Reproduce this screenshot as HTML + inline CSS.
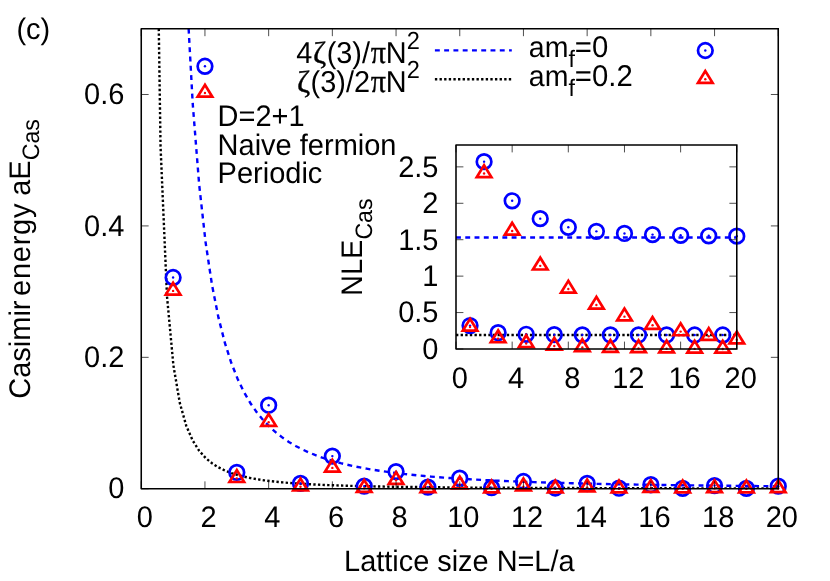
<!DOCTYPE html>
<html><head><meta charset="utf-8"><title>Casimir energy</title>
<style>html,body{margin:0;padding:0;background:#fff;}svg{display:block;will-change:transform;}text{font-family:"Liberation Sans",sans-serif;fill:#000;text-rendering:geometricPrecision;}</style></head><body>
<svg width="830" height="581" viewBox="0 0 830 581">
<rect width="830" height="581" fill="#fff"/>
<defs><clipPath id="cm"><rect x="141.25" y="28.78" width="637.00" height="459.97"/></clipPath></defs>
<text transform="translate(144.85,527.00) scale(1,1.025)" font-size="29" text-anchor="middle">0</text>
<text transform="translate(208.55,527.00) scale(1,1.025)" font-size="29" text-anchor="middle">2</text>
<text transform="translate(272.25,527.00) scale(1,1.025)" font-size="29" text-anchor="middle">4</text>
<text transform="translate(335.95,527.00) scale(1,1.025)" font-size="29" text-anchor="middle">6</text>
<text transform="translate(399.65,527.00) scale(1,1.025)" font-size="29" text-anchor="middle">8</text>
<text transform="translate(463.35,527.00) scale(1,1.025)" font-size="29" text-anchor="middle">10</text>
<text transform="translate(527.05,527.00) scale(1,1.025)" font-size="29" text-anchor="middle">12</text>
<text transform="translate(590.75,527.00) scale(1,1.025)" font-size="29" text-anchor="middle">14</text>
<text transform="translate(654.45,527.00) scale(1,1.025)" font-size="29" text-anchor="middle">16</text>
<text transform="translate(718.15,527.00) scale(1,1.025)" font-size="29" text-anchor="middle">18</text>
<text transform="translate(781.85,527.00) scale(1,1.025)" font-size="29" text-anchor="middle">20</text>
<text transform="translate(124.40,498.45) scale(1,1.025)" font-size="29" text-anchor="end">0</text>
<text transform="translate(124.40,367.03) scale(1,1.025)" font-size="29" text-anchor="end">0.2</text>
<text transform="translate(124.40,235.61) scale(1,1.025)" font-size="29" text-anchor="end">0.4</text>
<text transform="translate(124.40,104.19) scale(1,1.025)" font-size="29" text-anchor="end">0.6</text>
<text transform="translate(459.30,571.00) scale(1,1.025)" font-size="28.9" text-anchor="middle">Lattice size N=L/a</text>
<text transform="translate(29.60,258.90) rotate(-90) scale(1,1.025)" font-size="29" text-anchor="middle">Casimir <tspan dx="-3.6" style="letter-spacing:0.75px">energy</tspan><tspan dx="-1"> aE</tspan><tspan font-size="23.2" dy="9.2">Cas</tspan></text>
<text transform="translate(16.40,39.00) scale(1,1.025)" font-size="29" text-anchor="start">(c)</text>
<g clip-path="url(#cm)" fill="none">
<path d="M188.63,28.78 L192.72,103.72 L199.16,184.53 L205.59,242.33 L212.03,285.10 L218.46,317.62 L224.90,342.94 L231.33,363.03 L237.77,379.23 L244.20,392.49 L250.63,403.48 L257.07,412.69 L263.50,420.49 L269.94,427.14 L276.37,432.87 L282.81,437.84 L289.24,442.17 L295.67,445.97 L302.11,449.32 L308.54,452.30 L314.98,454.95 L321.41,457.32 L327.85,459.45 L334.28,461.37 L340.71,463.11 L347.15,464.69 L353.58,466.12 L360.02,467.43 L366.45,468.63 L372.89,469.74 L379.32,470.75 L385.76,471.68 L392.19,472.55 L398.62,473.35 L405.06,474.09 L411.49,474.78 L417.93,475.42 L424.36,476.02 L430.80,476.58 L437.23,477.10 L443.66,477.59 L450.10,478.05 L456.53,478.49 L462.97,478.89 L469.40,479.28 L475.84,479.64 L482.27,479.98 L488.70,480.30 L495.14,480.60 L501.57,480.89 L508.01,481.17 L514.44,481.42 L520.88,481.67 L527.31,481.90 L533.74,482.13 L540.18,482.34 L546.61,482.54 L553.05,482.73 L559.48,482.92 L565.92,483.09 L572.35,483.26 L578.79,483.42 L585.22,483.57 L591.65,483.72 L598.09,483.86 L604.52,484.00 L610.96,484.13 L617.39,484.25 L623.83,484.37 L630.26,484.48 L636.69,484.59 L643.13,484.70 L649.56,484.80 L656.00,484.90 L662.43,484.99 L668.87,485.09 L675.30,485.17 L681.73,485.26 L688.17,485.34 L694.60,485.42 L701.04,485.49 L707.47,485.57 L713.91,485.64 L720.34,485.71 L726.78,485.77 L733.21,485.84 L739.64,485.90 L746.08,485.96 L752.51,486.02 L758.95,486.08 L765.38,486.13 L771.82,486.18 L778.25,486.24" stroke="#0000ff" stroke-width="2.4" stroke-dasharray="4.9 4.37"/>
<path d="M158.78,28.78 L160.55,146.50 L166.99,296.23 L173.42,365.54 L179.86,403.19 L186.29,425.89 L192.72,440.62 L199.16,450.72 L205.59,457.95 L212.03,463.29 L218.46,467.36 L224.90,470.52 L231.33,473.03 L237.77,475.06 L244.20,476.72 L250.63,478.09 L257.07,479.24 L263.50,480.22 L269.94,481.05 L276.37,481.77 L282.81,482.39 L289.24,482.93 L295.67,483.40 L302.11,483.82 L308.54,484.19 L314.98,484.52 L321.41,484.82 L327.85,485.09 L334.28,485.33 L340.71,485.54 L347.15,485.74 L353.58,485.92 L360.02,486.09 L366.45,486.24 L372.89,486.37 L379.32,486.50 L385.76,486.62 L392.19,486.72 L398.62,486.82 L405.06,486.92 L411.49,487.00 L417.93,487.08 L424.36,487.16 L430.80,487.23 L437.23,487.29 L443.66,487.36 L450.10,487.41 L456.53,487.47 L462.97,487.52 L469.40,487.57 L475.84,487.61 L482.27,487.65 L488.70,487.69 L495.14,487.73 L501.57,487.77 L508.01,487.80 L514.44,487.83 L520.88,487.87 L527.31,487.89 L533.74,487.92 L540.18,487.95 L546.61,487.97 L553.05,488.00 L559.48,488.02 L565.92,488.04 L572.35,488.06 L578.79,488.08 L585.22,488.10 L591.65,488.12 L598.09,488.14 L604.52,488.16 L610.96,488.17 L617.39,488.19 L623.83,488.20 L630.26,488.22 L636.69,488.23 L643.13,488.24 L649.56,488.26 L656.00,488.27 L662.43,488.28 L668.87,488.29 L675.30,488.30 L681.73,488.31 L688.17,488.32 L694.60,488.33 L701.04,488.34 L707.47,488.35 L713.91,488.36 L720.34,488.37 L726.78,488.38 L733.21,488.39 L739.64,488.39 L746.08,488.40 L752.51,488.41 L758.95,488.42 L765.38,488.42 L771.82,488.43 L778.25,488.44" stroke="#000" stroke-width="2.4" stroke-dasharray="2.35 2.27"/>
</g>
<circle cx="173.10" cy="277.51" r="7.3" fill="none" stroke="#0000ff" stroke-width="2.7"/><circle cx="173.10" cy="277.51" r="1.2" fill="#0000ff"/>
<circle cx="204.95" cy="66.27" r="7.3" fill="none" stroke="#0000ff" stroke-width="2.7"/><circle cx="204.95" cy="66.27" r="1.2" fill="#0000ff"/>
<circle cx="236.80" cy="472.42" r="7.3" fill="none" stroke="#0000ff" stroke-width="2.7"/><circle cx="236.80" cy="472.42" r="1.2" fill="#0000ff"/>
<circle cx="268.65" cy="405.22" r="7.3" fill="none" stroke="#0000ff" stroke-width="2.7"/><circle cx="268.65" cy="405.22" r="1.2" fill="#0000ff"/>
<circle cx="300.50" cy="483.44" r="7.3" fill="none" stroke="#0000ff" stroke-width="2.7"/><circle cx="300.50" cy="483.44" r="1.2" fill="#0000ff"/>
<circle cx="332.35" cy="456.09" r="7.3" fill="none" stroke="#0000ff" stroke-width="2.7"/><circle cx="332.35" cy="456.09" r="1.2" fill="#0000ff"/>
<circle cx="364.20" cy="486.12" r="7.3" fill="none" stroke="#0000ff" stroke-width="2.7"/><circle cx="364.20" cy="486.12" r="1.2" fill="#0000ff"/>
<circle cx="396.05" cy="471.59" r="7.3" fill="none" stroke="#0000ff" stroke-width="2.7"/><circle cx="396.05" cy="471.59" r="1.2" fill="#0000ff"/>
<circle cx="427.90" cy="487.17" r="7.3" fill="none" stroke="#0000ff" stroke-width="2.7"/><circle cx="427.90" cy="487.17" r="1.2" fill="#0000ff"/>
<circle cx="459.75" cy="478.14" r="7.3" fill="none" stroke="#0000ff" stroke-width="2.7"/><circle cx="459.75" cy="478.14" r="1.2" fill="#0000ff"/>
<circle cx="491.60" cy="487.70" r="7.3" fill="none" stroke="#0000ff" stroke-width="2.7"/><circle cx="491.60" cy="487.70" r="1.2" fill="#0000ff"/>
<circle cx="523.45" cy="481.51" r="7.3" fill="none" stroke="#0000ff" stroke-width="2.7"/><circle cx="523.45" cy="481.51" r="1.2" fill="#0000ff"/>
<circle cx="555.30" cy="488.00" r="7.3" fill="none" stroke="#0000ff" stroke-width="2.7"/><circle cx="555.30" cy="488.00" r="1.2" fill="#0000ff"/>
<circle cx="587.15" cy="483.49" r="7.3" fill="none" stroke="#0000ff" stroke-width="2.7"/><circle cx="587.15" cy="483.49" r="1.2" fill="#0000ff"/>
<circle cx="619.00" cy="488.19" r="7.3" fill="none" stroke="#0000ff" stroke-width="2.7"/><circle cx="619.00" cy="488.19" r="1.2" fill="#0000ff"/>
<circle cx="650.85" cy="484.74" r="7.3" fill="none" stroke="#0000ff" stroke-width="2.7"/><circle cx="650.85" cy="484.74" r="1.2" fill="#0000ff"/>
<circle cx="682.70" cy="488.31" r="7.3" fill="none" stroke="#0000ff" stroke-width="2.7"/><circle cx="682.70" cy="488.31" r="1.2" fill="#0000ff"/>
<circle cx="714.55" cy="485.60" r="7.3" fill="none" stroke="#0000ff" stroke-width="2.7"/><circle cx="714.55" cy="485.60" r="1.2" fill="#0000ff"/>
<circle cx="746.40" cy="488.40" r="7.3" fill="none" stroke="#0000ff" stroke-width="2.7"/><circle cx="746.40" cy="488.40" r="1.2" fill="#0000ff"/>
<circle cx="778.25" cy="486.21" r="7.3" fill="none" stroke="#0000ff" stroke-width="2.7"/><circle cx="778.25" cy="486.21" r="1.2" fill="#0000ff"/>
<path d="M173.10,282.72 L165.80,294.55 L180.40,294.55 Z" fill="none" stroke="#ff0000" stroke-width="2.7" stroke-linejoin="miter"/><circle cx="173.10" cy="290.90" r="1.2" fill="#ff0000"/>
<path d="M204.95,84.87 L197.65,96.69 L212.25,96.69 Z" fill="none" stroke="#ff0000" stroke-width="2.7" stroke-linejoin="miter"/><circle cx="204.95" cy="93.04" r="1.2" fill="#ff0000"/>
<path d="M236.80,470.16 L229.50,481.98 L244.10,481.98 Z" fill="none" stroke="#ff0000" stroke-width="2.7" stroke-linejoin="miter"/><circle cx="236.80" cy="478.33" r="1.2" fill="#ff0000"/>
<path d="M268.65,414.06 L261.35,425.89 L275.95,425.89 Z" fill="none" stroke="#ff0000" stroke-width="2.7" stroke-linejoin="miter"/><circle cx="268.65" cy="422.24" r="1.2" fill="#ff0000"/>
<path d="M300.50,478.59 L293.20,490.42 L307.80,490.42 Z" fill="none" stroke="#ff0000" stroke-width="2.7" stroke-linejoin="miter"/><circle cx="300.50" cy="486.77" r="1.2" fill="#ff0000"/>
<path d="M332.35,459.74 L325.05,471.57 L339.65,471.57 Z" fill="none" stroke="#ff0000" stroke-width="2.7" stroke-linejoin="miter"/><circle cx="332.35" cy="467.92" r="1.2" fill="#ff0000"/>
<path d="M364.20,480.03 L356.90,491.85 L371.50,491.85 Z" fill="none" stroke="#ff0000" stroke-width="2.7" stroke-linejoin="miter"/><circle cx="364.20" cy="488.20" r="1.2" fill="#ff0000"/>
<path d="M396.05,472.12 L388.75,483.95 L403.35,483.95 Z" fill="none" stroke="#ff0000" stroke-width="2.7" stroke-linejoin="miter"/><circle cx="396.05" cy="480.30" r="1.2" fill="#ff0000"/>
<path d="M427.90,480.40 L420.60,492.22 L435.20,492.22 Z" fill="none" stroke="#ff0000" stroke-width="2.7" stroke-linejoin="miter"/><circle cx="427.90" cy="488.57" r="1.2" fill="#ff0000"/>
<path d="M459.75,476.61 L452.45,488.44 L467.05,488.44 Z" fill="none" stroke="#ff0000" stroke-width="2.7" stroke-linejoin="miter"/><circle cx="459.75" cy="484.79" r="1.2" fill="#ff0000"/>
<path d="M491.60,480.51 L484.30,492.34 L498.90,492.34 Z" fill="none" stroke="#ff0000" stroke-width="2.7" stroke-linejoin="miter"/><circle cx="491.60" cy="488.69" r="1.2" fill="#ff0000"/>
<path d="M523.45,478.55 L516.15,490.37 L530.75,490.37 Z" fill="none" stroke="#ff0000" stroke-width="2.7" stroke-linejoin="miter"/><circle cx="523.45" cy="486.72" r="1.2" fill="#ff0000"/>
<path d="M555.30,480.55 L548.00,492.38 L562.60,492.38 Z" fill="none" stroke="#ff0000" stroke-width="2.7" stroke-linejoin="miter"/><circle cx="555.30" cy="488.73" r="1.2" fill="#ff0000"/>
<path d="M587.15,479.48 L579.85,491.31 L594.45,491.31 Z" fill="none" stroke="#ff0000" stroke-width="2.7" stroke-linejoin="miter"/><circle cx="587.15" cy="487.66" r="1.2" fill="#ff0000"/>
<path d="M619.00,480.57 L611.70,492.39 L626.30,492.39 Z" fill="none" stroke="#ff0000" stroke-width="2.7" stroke-linejoin="miter"/><circle cx="619.00" cy="488.74" r="1.2" fill="#ff0000"/>
<path d="M650.85,479.96 L643.55,491.79 L658.15,491.79 Z" fill="none" stroke="#ff0000" stroke-width="2.7" stroke-linejoin="miter"/><circle cx="650.85" cy="488.14" r="1.2" fill="#ff0000"/>
<path d="M682.70,480.57 L675.40,492.40 L690.00,492.40 Z" fill="none" stroke="#ff0000" stroke-width="2.7" stroke-linejoin="miter"/><circle cx="682.70" cy="488.75" r="1.2" fill="#ff0000"/>
<path d="M714.55,480.22 L707.25,492.05 L721.85,492.05 Z" fill="none" stroke="#ff0000" stroke-width="2.7" stroke-linejoin="miter"/><circle cx="714.55" cy="488.40" r="1.2" fill="#ff0000"/>
<path d="M746.40,480.57 L739.10,492.40 L753.70,492.40 Z" fill="none" stroke="#ff0000" stroke-width="2.7" stroke-linejoin="miter"/><circle cx="746.40" cy="488.75" r="1.2" fill="#ff0000"/>
<path d="M778.25,480.37 L770.95,492.19 L785.55,492.19 Z" fill="none" stroke="#ff0000" stroke-width="2.7" stroke-linejoin="miter"/><circle cx="778.25" cy="488.54" r="1.2" fill="#ff0000"/>
<path d="M141.25,488.75 V481.35 M141.25,28.78 V36.18 M204.95,488.75 V481.35 M204.95,28.78 V36.18 M268.65,488.75 V481.35 M268.65,28.78 V36.18 M332.35,488.75 V481.35 M332.35,28.78 V36.18 M396.05,488.75 V481.35 M396.05,28.78 V36.18 M459.75,488.75 V481.35 M459.75,28.78 V36.18 M523.45,488.75 V481.35 M523.45,28.78 V36.18 M587.15,488.75 V481.35 M587.15,28.78 V36.18 M650.85,488.75 V481.35 M650.85,28.78 V36.18 M714.55,488.75 V481.35 M714.55,28.78 V36.18 M778.25,488.75 V481.35 M778.25,28.78 V36.18 M141.25,488.75 H148.65 M778.25,488.75 H770.85 M141.25,357.33 H148.65 M778.25,357.33 H770.85 M141.25,225.91 H148.65 M778.25,225.91 H770.85 M141.25,94.49 H148.65 M778.25,94.49 H770.85" stroke="#000" stroke-width="0.7" fill="none"/>
<path d="M778.25,28.78 H141.25 V488.75 H778.25 M778.25,28.78 V488.75" fill="none" stroke="#000" stroke-width="1.55" stroke-linejoin="round" stroke-linecap="square"/>
<text transform="translate(296.30,63.00) scale(1,1.045)" font-size="28.9" text-anchor="start">4</text>
<text transform="translate(312.90,63.00) scale(1.0,0.96)" font-size="32" style="font-family:'Liberation Serif',serif" stroke="#000" stroke-width="0.35">ζ</text>
<text transform="translate(326.64,63.00) scale(1,1.045)" font-size="28.9" text-anchor="start">(3)/</text>
<text transform="translate(370.70,63.00) scale(1.0,1.087)" font-size="30" style="font-family:'Liberation Serif',serif" stroke="#000" stroke-width="0.35">π</text>
<text transform="translate(385.87,63.00) scale(1,1.045)" font-size="28.9" text-anchor="start">N</text>
<text transform="translate(406.80,49.00) scale(1,1.05)" font-size="23.6" text-anchor="start">2</text>
<text transform="translate(296.90,92.00) scale(1.0,0.96)" font-size="32" style="font-family:'Liberation Serif',serif" stroke="#000" stroke-width="0.35">ζ</text>
<text transform="translate(310.58,92.00) scale(1,1.045)" font-size="28.9" text-anchor="start">(3)/2</text>
<text transform="translate(370.70,92.00) scale(1.0,1.087)" font-size="30" style="font-family:'Liberation Serif',serif" stroke="#000" stroke-width="0.35">π</text>
<text transform="translate(385.87,92.00) scale(1,1.045)" font-size="28.9" text-anchor="start">N</text>
<text transform="translate(406.80,78.00) scale(1,1.05)" font-size="23.6" text-anchor="start">2</text>
<path d="M434.9,50.4 H511.8" stroke="#0000ff" stroke-width="2.4" stroke-dasharray="4.9 4.37" fill="none"/>
<path d="M434.9,79.2 H511.8" stroke="#000" stroke-width="2.4" stroke-dasharray="2.35 2.27" fill="none"/>
<text transform="translate(528.80,57.20) scale(1,1.025)" font-size="28.5" text-anchor="start">am<tspan font-size="23.2" dy="9.2">f</tspan><tspan dy="-9.2" font-size="29.3">=0</tspan></text>
<text transform="translate(528.80,86.10) scale(1,1.025)" font-size="28.5" text-anchor="start">am<tspan font-size="23.2" dy="9.2">f</tspan><tspan dy="-9.2" font-size="29.3">=0.2</tspan></text>
<circle cx="705.30" cy="50.50" r="7.3" fill="none" stroke="#0000ff" stroke-width="2.7"/><circle cx="705.30" cy="50.50" r="1.2" fill="#0000ff"/>
<path d="M705.30,71.02 L698.00,82.85 L712.60,82.85 Z" fill="none" stroke="#ff0000" stroke-width="2.7" stroke-linejoin="miter"/><circle cx="705.30" cy="79.20" r="1.2" fill="#ff0000"/>
<text transform="translate(217.60,125.80) scale(1,1.025)" font-size="29" text-anchor="start">D=2+1</text>
<text transform="translate(217.60,154.70) scale(1,1.025)" font-size="29" text-anchor="start">Naive fermion</text>
<text transform="translate(217.60,182.80) scale(1,1.025)" font-size="29" text-anchor="start">Periodic</text>
<text transform="translate(459.90,388.00) scale(1,1.025)" font-size="29" text-anchor="middle">0</text>
<text transform="translate(516.06,388.00) scale(1,1.025)" font-size="29" text-anchor="middle">4</text>
<text transform="translate(572.21,388.00) scale(1,1.025)" font-size="29" text-anchor="middle">8</text>
<text transform="translate(628.37,388.00) scale(1,1.025)" font-size="29" text-anchor="middle">12</text>
<text transform="translate(684.52,388.00) scale(1,1.025)" font-size="29" text-anchor="middle">16</text>
<text transform="translate(740.68,388.00) scale(1,1.025)" font-size="29" text-anchor="middle">20</text>
<text transform="translate(438.50,358.80) scale(1,1.025)" font-size="29" text-anchor="end">0</text>
<text transform="translate(438.50,322.37) scale(1,1.025)" font-size="29" text-anchor="end">0.5</text>
<text transform="translate(438.50,285.94) scale(1,1.025)" font-size="29" text-anchor="end">1</text>
<text transform="translate(438.50,249.51) scale(1,1.025)" font-size="29" text-anchor="end">1.5</text>
<text transform="translate(438.50,213.09) scale(1,1.025)" font-size="29" text-anchor="end">2</text>
<text transform="translate(438.50,176.66) scale(1,1.025)" font-size="29" text-anchor="end">2.5</text>
<text transform="translate(362.20,247.20) rotate(-90) scale(1,1.025)" font-size="29" text-anchor="middle">NLE<tspan font-size="23.2" dy="9.2">Cas</tspan></text>
<path d="M456.0,237.49 H736.78" stroke="#0000ff" stroke-width="2.4" stroke-dasharray="4.9 4.37" fill="none"/>
<path d="M456.0,335.06 H736.78" stroke="#000" stroke-width="2.4" stroke-dasharray="2.35 2.27" fill="none"/>
<circle cx="470.04" cy="325.58" r="7.3" fill="none" stroke="#0000ff" stroke-width="2.7"/><circle cx="470.04" cy="325.58" r="1.2" fill="#0000ff"/>
<circle cx="484.08" cy="161.63" r="7.3" fill="none" stroke="#0000ff" stroke-width="2.7"/><circle cx="484.08" cy="161.63" r="1.2" fill="#0000ff"/>
<circle cx="498.12" cy="332.71" r="7.3" fill="none" stroke="#0000ff" stroke-width="2.7"/><circle cx="498.12" cy="332.71" r="1.2" fill="#0000ff"/>
<circle cx="512.16" cy="200.82" r="7.3" fill="none" stroke="#0000ff" stroke-width="2.7"/><circle cx="512.16" cy="200.82" r="1.2" fill="#0000ff"/>
<circle cx="526.19" cy="334.29" r="7.3" fill="none" stroke="#0000ff" stroke-width="2.7"/><circle cx="526.19" cy="334.29" r="1.2" fill="#0000ff"/>
<circle cx="540.23" cy="218.64" r="7.3" fill="none" stroke="#0000ff" stroke-width="2.7"/><circle cx="540.23" cy="218.64" r="1.2" fill="#0000ff"/>
<circle cx="554.27" cy="334.70" r="7.3" fill="none" stroke="#0000ff" stroke-width="2.7"/><circle cx="554.27" cy="334.70" r="1.2" fill="#0000ff"/>
<circle cx="568.31" cy="227.26" r="7.3" fill="none" stroke="#0000ff" stroke-width="2.7"/><circle cx="568.31" cy="227.26" r="1.2" fill="#0000ff"/>
<circle cx="582.35" cy="334.85" r="7.3" fill="none" stroke="#0000ff" stroke-width="2.7"/><circle cx="582.35" cy="334.85" r="1.2" fill="#0000ff"/>
<circle cx="596.39" cy="231.35" r="7.3" fill="none" stroke="#0000ff" stroke-width="2.7"/><circle cx="596.39" cy="231.35" r="1.2" fill="#0000ff"/>
<circle cx="610.43" cy="334.92" r="7.3" fill="none" stroke="#0000ff" stroke-width="2.7"/><circle cx="610.43" cy="334.92" r="1.2" fill="#0000ff"/>
<circle cx="624.47" cy="233.43" r="7.3" fill="none" stroke="#0000ff" stroke-width="2.7"/><circle cx="624.47" cy="233.43" r="1.2" fill="#0000ff"/>
<circle cx="638.51" cy="334.96" r="7.3" fill="none" stroke="#0000ff" stroke-width="2.7"/><circle cx="638.51" cy="334.96" r="1.2" fill="#0000ff"/>
<circle cx="652.55" cy="234.60" r="7.3" fill="none" stroke="#0000ff" stroke-width="2.7"/><circle cx="652.55" cy="234.60" r="1.2" fill="#0000ff"/>
<circle cx="666.59" cy="334.99" r="7.3" fill="none" stroke="#0000ff" stroke-width="2.7"/><circle cx="666.59" cy="334.99" r="1.2" fill="#0000ff"/>
<circle cx="680.62" cy="235.32" r="7.3" fill="none" stroke="#0000ff" stroke-width="2.7"/><circle cx="680.62" cy="235.32" r="1.2" fill="#0000ff"/>
<circle cx="694.66" cy="335.00" r="7.3" fill="none" stroke="#0000ff" stroke-width="2.7"/><circle cx="694.66" cy="335.00" r="1.2" fill="#0000ff"/>
<circle cx="708.70" cy="235.80" r="7.3" fill="none" stroke="#0000ff" stroke-width="2.7"/><circle cx="708.70" cy="235.80" r="1.2" fill="#0000ff"/>
<circle cx="722.74" cy="335.02" r="7.3" fill="none" stroke="#0000ff" stroke-width="2.7"/><circle cx="722.74" cy="335.02" r="1.2" fill="#0000ff"/>
<circle cx="736.78" cy="236.13" r="7.3" fill="none" stroke="#0000ff" stroke-width="2.7"/><circle cx="736.78" cy="236.13" r="1.2" fill="#0000ff"/>
<path d="M470.04,318.89 L462.74,330.71 L477.34,330.71 Z" fill="none" stroke="#ff0000" stroke-width="2.7" stroke-linejoin="miter"/><circle cx="470.04" cy="327.06" r="1.2" fill="#ff0000"/>
<path d="M484.08,165.32 L476.78,177.15 L491.38,177.15 Z" fill="none" stroke="#ff0000" stroke-width="2.7" stroke-linejoin="miter"/><circle cx="484.08" cy="173.50" r="1.2" fill="#ff0000"/>
<path d="M498.12,330.43 L490.82,342.26 L505.42,342.26 Z" fill="none" stroke="#ff0000" stroke-width="2.7" stroke-linejoin="miter"/><circle cx="498.12" cy="338.61" r="1.2" fill="#ff0000"/>
<path d="M512.16,222.82 L504.86,234.65 L519.46,234.65 Z" fill="none" stroke="#ff0000" stroke-width="2.7" stroke-linejoin="miter"/><circle cx="512.16" cy="231.00" r="1.2" fill="#ff0000"/>
<path d="M526.19,335.33 L518.89,347.16 L533.49,347.16 Z" fill="none" stroke="#ff0000" stroke-width="2.7" stroke-linejoin="miter"/><circle cx="526.19" cy="343.51" r="1.2" fill="#ff0000"/>
<path d="M540.23,257.67 L532.93,269.49 L547.53,269.49 Z" fill="none" stroke="#ff0000" stroke-width="2.7" stroke-linejoin="miter"/><circle cx="540.23" cy="265.84" r="1.2" fill="#ff0000"/>
<path d="M554.27,337.85 L546.97,349.68 L561.57,349.68 Z" fill="none" stroke="#ff0000" stroke-width="2.7" stroke-linejoin="miter"/><circle cx="554.27" cy="346.03" r="1.2" fill="#ff0000"/>
<path d="M568.31,280.85 L561.01,292.68 L575.61,292.68 Z" fill="none" stroke="#ff0000" stroke-width="2.7" stroke-linejoin="miter"/><circle cx="568.31" cy="289.03" r="1.2" fill="#ff0000"/>
<path d="M582.35,339.24 L575.05,351.06 L589.65,351.06 Z" fill="none" stroke="#ff0000" stroke-width="2.7" stroke-linejoin="miter"/><circle cx="582.35" cy="347.41" r="1.2" fill="#ff0000"/>
<path d="M596.39,296.89 L589.09,308.72 L603.69,308.72 Z" fill="none" stroke="#ff0000" stroke-width="2.7" stroke-linejoin="miter"/><circle cx="596.39" cy="305.07" r="1.2" fill="#ff0000"/>
<path d="M610.43,339.99 L603.13,351.82 L617.73,351.82 Z" fill="none" stroke="#ff0000" stroke-width="2.7" stroke-linejoin="miter"/><circle cx="610.43" cy="348.17" r="1.2" fill="#ff0000"/>
<path d="M624.47,308.48 L617.17,320.31 L631.77,320.31 Z" fill="none" stroke="#ff0000" stroke-width="2.7" stroke-linejoin="miter"/><circle cx="624.47" cy="316.66" r="1.2" fill="#ff0000"/>
<path d="M638.51,340.40 L631.21,352.22 L645.81,352.22 Z" fill="none" stroke="#ff0000" stroke-width="2.7" stroke-linejoin="miter"/><circle cx="638.51" cy="348.57" r="1.2" fill="#ff0000"/>
<path d="M652.55,317.05 L645.25,328.87 L659.85,328.87 Z" fill="none" stroke="#ff0000" stroke-width="2.7" stroke-linejoin="miter"/><circle cx="652.55" cy="325.22" r="1.2" fill="#ff0000"/>
<path d="M666.59,340.61 L659.29,352.43 L673.88,352.43 Z" fill="none" stroke="#ff0000" stroke-width="2.7" stroke-linejoin="miter"/><circle cx="666.59" cy="348.78" r="1.2" fill="#ff0000"/>
<path d="M680.62,323.41 L673.32,335.24 L687.92,335.24 Z" fill="none" stroke="#ff0000" stroke-width="2.7" stroke-linejoin="miter"/><circle cx="680.62" cy="331.59" r="1.2" fill="#ff0000"/>
<path d="M694.66,340.71 L687.36,352.54 L701.96,352.54 Z" fill="none" stroke="#ff0000" stroke-width="2.7" stroke-linejoin="miter"/><circle cx="694.66" cy="348.89" r="1.2" fill="#ff0000"/>
<path d="M708.70,328.13 L701.40,339.96 L716.00,339.96 Z" fill="none" stroke="#ff0000" stroke-width="2.7" stroke-linejoin="miter"/><circle cx="708.70" cy="336.31" r="1.2" fill="#ff0000"/>
<path d="M722.74,340.77 L715.44,352.60 L730.04,352.60 Z" fill="none" stroke="#ff0000" stroke-width="2.7" stroke-linejoin="miter"/><circle cx="722.74" cy="348.95" r="1.2" fill="#ff0000"/>
<path d="M736.78,331.62 L729.48,343.44 L744.08,343.44 Z" fill="none" stroke="#ff0000" stroke-width="2.7" stroke-linejoin="miter"/><circle cx="736.78" cy="339.79" r="1.2" fill="#ff0000"/>
<path d="M456.00,349.0 V341.6 M456.00,145.0 V152.4 M512.16,349.0 V341.6 M512.16,145.0 V152.4 M568.31,349.0 V341.6 M568.31,145.0 V152.4 M624.47,349.0 V341.6 M624.47,145.0 V152.4 M680.62,349.0 V341.6 M680.62,145.0 V152.4 M736.78,349.0 V341.6 M736.78,145.0 V152.4 M456.0,349.00 H463.4 M736.78,349.00 H729.38 M456.0,312.57 H463.4 M736.78,312.57 H729.38 M456.0,276.14 H463.4 M736.78,276.14 H729.38 M456.0,239.71 H463.4 M736.78,239.71 H729.38 M456.0,203.29 H463.4 M736.78,203.29 H729.38 M456.0,166.86 H463.4 M736.78,166.86 H729.38" stroke="#000" stroke-width="0.7" fill="none"/>
<path d="M736.78,145.0 H456.0 V349.0 H736.78 M736.78,145.0 V349.0" fill="none" stroke="#000" stroke-width="1.55" stroke-linejoin="round" stroke-linecap="square"/>
</svg></body></html>
